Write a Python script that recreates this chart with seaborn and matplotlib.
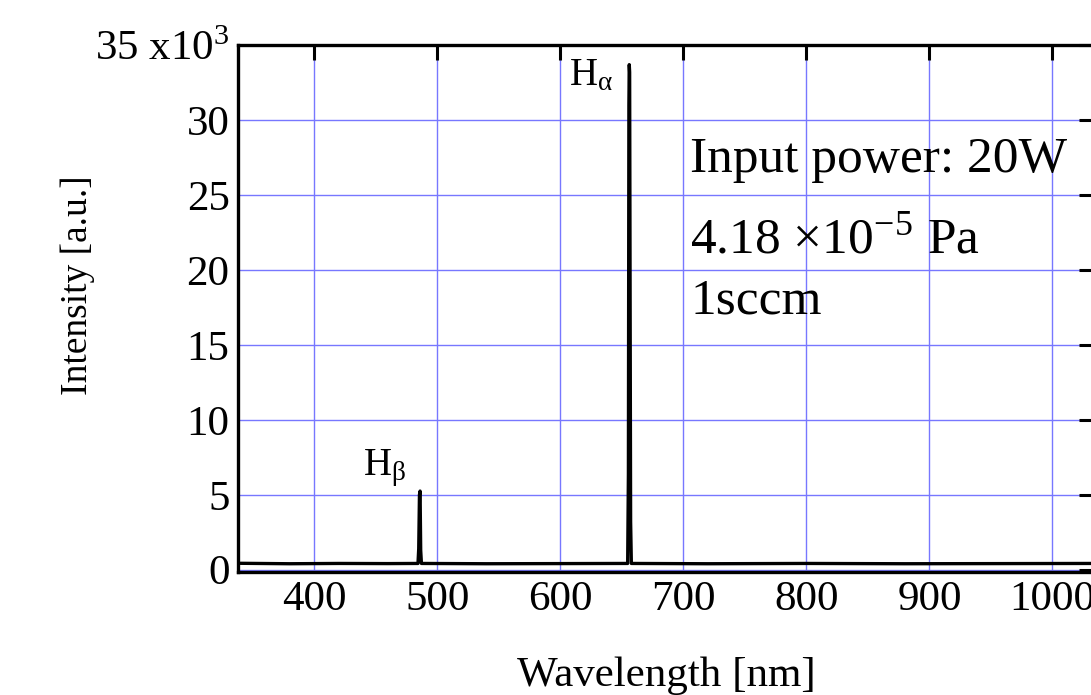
import matplotlib
matplotlib.use("Agg")
import matplotlib.pyplot as plt
import seaborn as sns
import pandas as pd

# Spectrum data
wavelength = [340, 380, 420, 460, 484.4, 485.0, 485.6, 486.1, 486.6, 487.2,
              540, 600, 654.8, 655.4, 655.8, 656.1, 656.4, 656.8, 657.2, 657.8,
              720, 800, 880, 960, 1035]
intensity = [430, 400, 420, 410, 420, 1400, 5000, 5250, 1300, 420,
             400, 410, 420, 6400, 31000, 33700, 33200, 17800, 3200, 420,
             400, 420, 400, 410, 420]

xticks = [400, 500, 600, 700, 800, 900, 1000]
yticks = [0, 5000, 10000, 15000, 20000, 25000, 30000, 35000]
ytick_labels = ["0", "5", "10", "15", "20", "25", "30", "35 x10$^{\\mathregular{3}}$"]

sns.set_style("white")
plt.rcParams["font.family"] = ["Liberation Serif", "DejaVu Serif"]
plt.rcParams["mathtext.fontset"] = "stix"
for key in ["text.color", "axes.labelcolor", "xtick.color", "ytick.color"]:
    plt.rcParams[key] = "black"

df = pd.DataFrame({"wavelength": wavelength, "intensity": intensity})

fig = plt.figure(figsize=(10.91, 6.95), dpi=100)
ax = fig.add_axes([0.218, 0.177, 0.785, 0.758])

grid_color = "#7777ff"
for xv in xticks:
    ax.axvline(xv, color=grid_color, lw=1.0, zorder=0)
for yv in yticks:
    ax.axhline(yv, color=grid_color, lw=1.0, zorder=0)

sns.lineplot(data=df, x="wavelength", y="intensity", ax=ax, color="black",
             lw=2.4, estimator=None, sort=True, zorder=3)

ax.set_xlim(338, 1034)
ax.set_ylim(-150, 35000)
ax.set_xticks(xticks)
ax.set_xticklabels([str(v) for v in xticks])
ax.set_yticks(yticks)
ax.set_yticklabels(ytick_labels)

ax.tick_params(axis="both", which="major", direction="in", length=11, width=2.2,
               top=True, right=True, labelsize=31, color="black",
               labelcolor="black", pad=6)
for sp in ax.spines.values():
    sp.set_linewidth(2.4)
    sp.set_color("black")
    sp.set_zorder(5)

ax.set_xlabel("Wavelength [nm]", fontsize=31, labelpad=27, color="black")
ax.set_ylabel("Intensity [a.u.]", fontsize=27, color="black")
ax.yaxis.set_label_coords(-0.167, 0.545)

ax.text(643, 32300, r"H$_{\mathregular{α}}$", fontsize=28, ha="right", va="baseline")
ax.text(475, 6300, r"H$_{\mathregular{β}}$", fontsize=28, ha="right", va="baseline")

ax.text(0.528, 0.759, "Input power: 20W", transform=ax.transAxes,
        fontsize=37, ha="left", va="baseline")
ax.text(0.528, 0.605, r"4.18 ×10$^{\mathregular{-5}}$ Pa", transform=ax.transAxes,
        fontsize=37, ha="left", va="baseline")
ax.text(0.528, 0.491, "1sccm", transform=ax.transAxes,
        fontsize=37, ha="left", va="baseline")

fig.savefig("out.png", dpi=100)
